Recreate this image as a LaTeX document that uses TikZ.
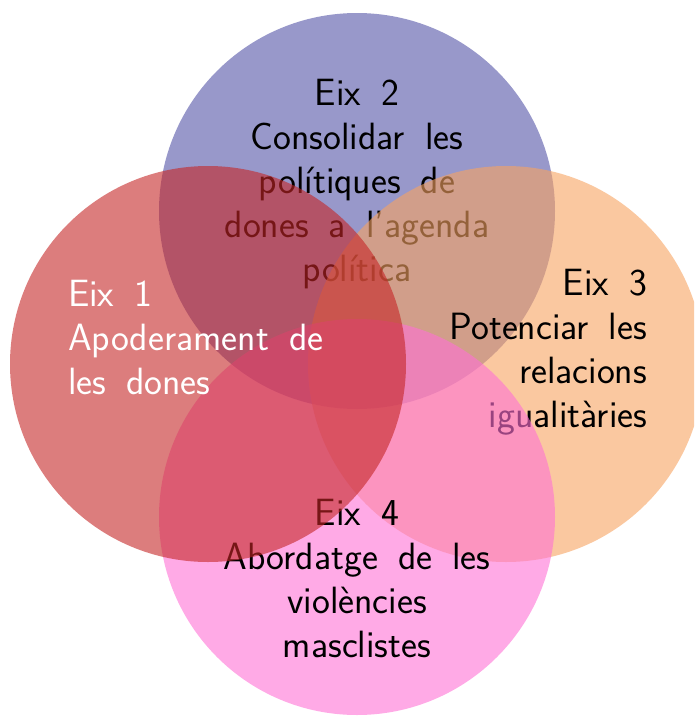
\documentclass[tikz,border=0pt]{standalone}
\usepackage{tikz}

\definecolor{eixblue}{RGB}{83,83,167}
\definecolor{eixorange}{RGB}{247,163,97}
\definecolor{eixpink}{RGB}{255,113,213}
\definecolor{eixred}{RGB}{197,38,38}
\newcommand\eixfont{\sffamily\fontsize{38}{44}\selectfont\spaceskip=20pt\relax}

\begin{document}
\begin{tikzpicture}[x=1pt,y=-1pt]
  \tikzset{CircleStyle/.style = {
    draw          = none,
    fill opacity  = 0.6
    }
  }
  \tikzset{LabelStyle/.style = {
    font          = \eixfont,
    text          = black,
    inner sep     = 0pt,
    outer sep     = 0pt
    }
  }

  \useasboundingbox (0,0) rectangle (694,718);
  \clip (0,0) rectangle (694,718);

  % circles drawn one after the other, each with its text
  \fill[CircleStyle, fill=eixblue] (357,211) circle (198);
  \node[LabelStyle, align=center](E2) at (357,184)
    {Eix 2\\Consolidar les\\polítiques de\\dones a l'agenda\\política};

  \fill[CircleStyle, fill=eixorange] (506,364) circle (198);
  \node[LabelStyle, align=right, anchor=east](E3) at (647,352)
    {Eix 3\\Potenciar les\\relacions\\igualitàries};

  \fill[CircleStyle, fill=eixpink] (357,517) circle (198);
  \node[LabelStyle, align=center](E4) at (357,578)
    {Eix 4\\Abordatge de les\\violències\\masclistes};

  \fill[CircleStyle, fill=eixred] (208,364) circle (198);
  \node[LabelStyle, align=left, anchor=west, text=white](E1) at (68,337)
    {Eix 1\\Apoderament de\\les dones};

\end{tikzpicture}
\end{document}
